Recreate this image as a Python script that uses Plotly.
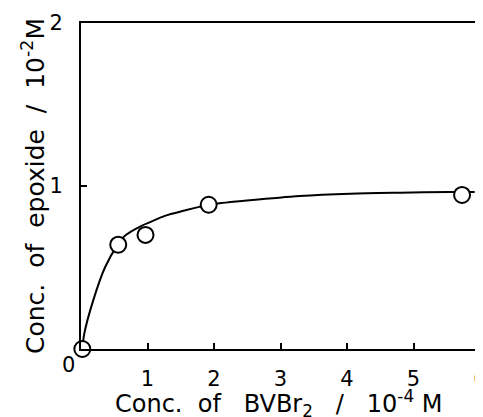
import plotly.graph_objects as go

# measured data points
x_pts = [0.02, 0.56, 0.97, 1.92, 5.73]
y_pts = [0.0, 0.64, 0.70, 0.885, 0.945]

# fitted curve
x_curve = [0.02, 0.05, 0.185, 0.36, 0.56, 0.66, 0.91, 1.04, 1.26, 1.54, 1.93, 2.54, 3.29, 4.05, 4.80, 5.55, 5.92]
y_curve = [0.0, 0.096, 0.30, 0.50, 0.645, 0.695, 0.756, 0.778, 0.817, 0.848, 0.885, 0.912, 0.939, 0.953, 0.959, 0.963, 0.963]

x_ticks = [1, 2, 3, 4, 5, 6]
y_ticks = [1, 2]

FONT = "DejaVu Sans"
S = "\u00a0"
x_title = f"Conc.{S*2}of{S*3}BVBr<sub>2</sub>{S*3}/{S*3}10<sup>-4</sup>{S}M"
y_title = f"Conc.{S*2}of{S*2}epoxide{S*2}/{S*2}10<sup>-2</sup>M"

fig = go.Figure()
fig.add_trace(go.Scatter(x=x_curve, y=y_curve, mode="lines",
                         line=dict(color="black", width=2, shape="spline", smoothing=0.8),
                         hoverinfo="skip", cliponaxis=False))
fig.add_trace(go.Scatter(x=x_pts, y=y_pts, mode="markers",
                         marker=dict(symbol="circle", size=16, color="white",
                                     line=dict(color="black", width=2)),
                         cliponaxis=False))

fig.update_layout(
    width=475, height=409,
    margin=dict(l=73, r=3, t=15, b=68),
    paper_bgcolor="white", plot_bgcolor="white",
    showlegend=False,
    font=dict(family=FONT, color="black", size=20),
    xaxis=dict(range=[0, 6], tickvals=x_ticks, ticktext=[str(v) for v in x_ticks],
               ticks="inside", ticklen=6, tickwidth=2, tickcolor="black",
               showline=True, linecolor="black", linewidth=2, mirror=True,
               showgrid=False, zeroline=False, ticklabelstandoff=10,
               ticklabeloverflow="allow",
               automargin=False, tickfont=dict(size=21)),
    yaxis=dict(range=[0, 2], tickvals=y_ticks, ticktext=[str(v) for v in y_ticks],
               ticks="inside", ticklen=6, tickwidth=2, tickcolor="black",
               showline=True, linecolor="black", linewidth=2, mirror=True,
               showgrid=False, zeroline=False, ticklabelstandoff=12,
               automargin=False, tickfont=dict(size=21)),
    annotations=[
        dict(text="0", x=0, y=0, xref="x", yref="y", showarrow=False,
             xanchor="center", yanchor="middle", xshift=-13, yshift=-16,
             font=dict(size=21, family=FONT)),
        dict(text=x_title, x=0.5, y=0, xref="paper", yref="paper", showarrow=False,
             xanchor="center", yanchor="middle", xshift=-2, yshift=-54,
             font=dict(size=24, family=FONT)),
        dict(text=y_title, x=0, y=0.5, xref="paper", yref="paper", showarrow=False,
             xanchor="center", yanchor="middle", xshift=-48, textangle=-90,
             font=dict(size=25, family=FONT)),
    ],
)

fig.write_html("out.html")
